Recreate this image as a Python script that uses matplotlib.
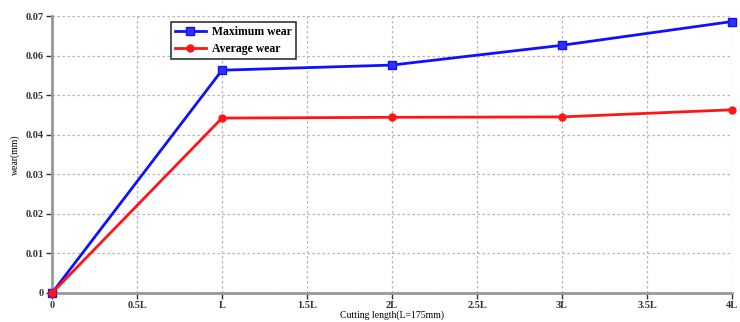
import matplotlib.pyplot as plt

# Tool wear versus cutting length
lengths = [0, 1, 2, 3, 4]
tick_pos = [0, 0.5, 1, 1.5, 2, 2.5, 3, 3.5, 4]
tick_labels = ['0', '0.5L', 'L', '1.5L', '2L', '2.5L', '3L', '3.5L', '4L']
max_wear = [0.0, 0.0563, 0.0576, 0.0626, 0.0686]
avg_wear = [0.0, 0.0442, 0.0444, 0.0445, 0.0463]

plt.rcParams['font.family'] = ['Liberation Serif', 'DejaVu Serif']
plt.rcParams['font.weight'] = 'bold'

fig = plt.figure(figsize=(7.4, 3.22), dpi=100)
# axes box in figure pixels: x 52..732, y 16..293
ax = fig.add_axes([52 / 740, (322 - 293) / 322, 680 / 740, 277 / 322])

ax.plot(lengths, max_wear, color='#1010ff', linewidth=2, marker='s', markersize=6,
        markerfacecolor='#3030ff', markeredgecolor='#1010ff', label='Maximum wear',
        clip_on=False, zorder=3)
ax.plot(lengths, avg_wear, color='#ff1515', linewidth=2, marker='o', markersize=5,
        markerfacecolor='#ff1515', markeredgecolor='#ff1515', label='Average wear',
        clip_on=False, zorder=3)

ax.set_xlim(0, 4)
ax.set_ylim(0, 0.07)
ax.set_xticks(tick_pos)
ax.set_xticklabels(tick_labels)
ax.set_yticks([0, 0.01, 0.02, 0.03, 0.04, 0.05, 0.06, 0.07])
ax.set_yticklabels(['0', '0.01', '0.02', '0.03', '0.04', '0.05', '0.06', '0.07'])
ax.tick_params(labelsize=7.5, colors='#333333', length=4, width=1, pad=2)
ax.grid(True, linestyle=(0, (2, 2)), color='#b5b5b5', linewidth=0.9)

for side in ['top', 'right']:
    ax.spines[side].set_visible(False)
for side in ['left', 'bottom']:
    ax.spines[side].set_color('#999999')
    ax.spines[side].set_linewidth(2)

ax.set_xlabel('Cutting length(L=175mm)', fontsize=7, labelpad=0)
ax.set_ylabel('wear(mm)', fontsize=7, labelpad=4)

leg = ax.legend(loc='upper left', bbox_to_anchor=(0.166, 1.0), fontsize=8.5,
                frameon=True, fancybox=False, edgecolor='black', handlelength=2.6,
                borderpad=0.35, labelspacing=0.4, handletextpad=0.5)
leg.get_frame().set_linewidth(1.2)

fig.savefig('out.png', dpi=100)
